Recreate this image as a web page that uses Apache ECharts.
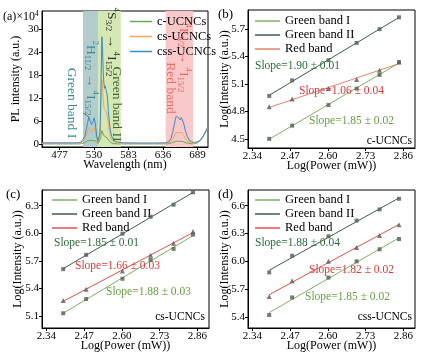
<!DOCTYPE html>
<html><head><meta charset="utf-8">
<script src="https://cdn.jsdelivr.net/npm/echarts@6/dist/echarts.min.js"></script>
<style>html,body{margin:0;padding:0;background:#fff}#c{width:424px;height:359px}</style>
</head><body><div id="c"></div>
<script>
// ---------- data: panel (a) spectra ----------
const wavelength = [450,470,490,505,510,513,516,518,520,522,524,526,528,530,532,534,536,538,539,540,541,542,543,544,545,546,547,548,549,550,551,552,553,555,557,560,565,575,600,620,640,645,648,651,654,656,658,660,662,664,666,668,670,673,676,680,685,690,694,698,702,705];
const cUCNCs = [0,0,0,0,0.05,0.15,0.35,0.6,0.85,1.0,0.9,0.8,0.9,1.0,0.8,0.3,0.1,0.2,0.5,1.4,2.6,3.5,3.2,2.6,2.2,2.0,2.05,1.9,1.75,1.6,1.3,1.0,0.7,0.4,0.2,0.1,0.05,0,0,0,0,0.1,0.2,0.4,0.6,0.7,0.75,0.7,0.65,0.7,0.65,0.5,0.35,0.2,0.1,0.05,0.05,0.4,1.0,2.0,3.3,4.4];
const csUCNCs = [0.1,0.1,0.1,0.1,0.2,0.6,1.3,2.4,3.5,4.3,3.7,3.1,3.5,4.1,3.2,1.2,0.4,0.8,1.8,5.5,11.5,16.8,15.0,11.5,9.8,9.0,9.3,8.8,8.3,7.8,6.5,5.0,3.8,2.0,1.0,0.5,0.2,0.1,0.1,0.1,0.1,0.3,0.6,1.3,2.4,3.0,3.2,2.9,2.7,3.0,2.8,2.2,1.5,0.8,0.4,0.2,0.2,0.5,1.1,2.1,3.4,4.5];
const cssUCNCs = [0.3,0.3,0.3,0.3,0.5,1.0,2.0,3.8,5.5,7.0,6.0,5.0,5.6,6.8,5.2,2.0,0.7,1.2,3.0,9.0,19,28,25,19,16,14.5,15.2,14.5,13.6,13.0,11.0,8.5,6.5,3.5,2.0,1.0,0.5,0.3,0.25,0.25,0.3,0.6,1.4,3.2,5.8,7.2,7.6,6.9,6.3,6.9,6.6,5.2,3.6,2.0,1.0,0.5,0.4,0.6,1.2,2.2,3.5,4.6];
const wlTicks = [477,530,583,636,689];
const plTicks = [0,6,12,18,24,30];
// bands [start, end] in nm
const bandGreenI = [513,536];
const bandGreenII = [536,571];
const bandRed = [640,682];

// ---------- data: panels (b)-(d) ----------
const logPower = [2.398,2.477,2.602,2.699,2.778,2.845];
const powerTicks = [2.34,2.47,2.60,2.73,2.86];
const bGreenI  = [4.50,4.645,4.87,5.05,5.20,5.34];
const bGreenII = [4.97,5.14,5.36,5.55,5.70,5.83];
const bRed     = [4.85,4.935,5.05,5.15,5.25,5.34];
const bTicks = [4.5,4.8,5.1,5.4,5.7];
const cGreenI  = [5.13,5.285,5.505,5.71,5.83,5.985];
const cGreenII = [5.61,5.765,5.995,6.18,6.31,6.445];
const cRed     = [5.27,5.39,5.59,5.76,5.89,6.02];
const cTicks = [5.1,5.4,5.7,6.0,6.3];
const dGreenI  = [5.42,5.61,5.825,6.0,6.13,6.24];
const dGreenII = [5.88,6.06,6.27,6.44,6.56,6.675];
const dRed     = [5.62,5.79,6.00,6.15,6.28,6.395];
const dTicks = [5.4,5.7,6.0,6.3,6.6];

const FONT = "'Liberation Serif','Times New Roman',serif";
const zip = (xs, ys) => xs.map((x, i) => [x, ys[i]]);
function fitLine(xs, ys) {
  const n = xs.length;
  const mx = xs.reduce((a, b) => a + b, 0) / n, my = ys.reduce((a, b) => a + b, 0) / n;
  let sxy = 0, sxx = 0;
  for (let i = 0; i < n; i++) { sxy += (xs[i] - mx) * (ys[i] - my); sxx += (xs[i] - mx) ** 2; }
  const k = sxy / sxx, b = my - k * mx;
  return [[xs[0], k * xs[0] + b], [xs[n - 1], k * xs[n - 1] + b]];
}

function xAx(gi, min, max, ticks, dec, name) {
  return {type:'value', gridIndex:gi, min, max, name, nameLocation:'middle', nameGap:12, nameMoveOverlap:false,
    nameTextStyle:{fontFamily:FONT, fontSize:12, color:'#000'},
    axisLine:{onZero:false, lineStyle:{color:'#000', width:1}},
    axisTick:{show:true, length:3, customValues:ticks, lineStyle:{color:'#000'}},
    axisLabel:{customValues:ticks, formatter:v => dec ? v.toFixed(dec) : String(v), fontFamily:FONT, fontSize:11, color:'#000', margin:3},
    splitLine:{show:false}};
}
function yAx(gi, min, max, ticks, dec, name, gap) {
  return {type:'value', gridIndex:gi, min, max, name, nameLocation:'middle', nameGap:gap, nameMoveOverlap:false,
    nameTextStyle:{fontFamily:FONT, fontSize:12, color:'#000'},
    axisLine:{onZero:false, lineStyle:{color:'#000', width:1}},
    axisTick:{show:true, length:3, customValues:ticks, lineStyle:{color:'#000'}},
    axisLabel:{customValues:ticks, formatter:v => dec ? v.toFixed(dec) : String(v), fontFamily:FONT, fontSize:11, color:'#000', margin:3},
    splitLine:{show:false}};
}

const specColors = {c:'#6aaa55', cs:'#f5a55a', css:'#3a8cc8'};
function specSeries(name, ys, color) {
  return {type:'line', name, xAxisIndex:0, yAxisIndex:0, data:zip(wavelength, ys), symbol:'none',
    color, lineStyle:{color, width:1}, itemStyle:{color}, z:3, animation:false};
}

const colGI = '#80b068', colGII = '#3e5e48';
function panelSeries(idx, tag, gI, gII, red, redColor) {
  const out = [];
  const defs = [['Green band I', gI, colGI, 'rect', 4], ['Green band II', gII, colGII, 'rect', 4], ['Red band', red, redColor, 'triangle', 5]];
  defs.forEach(([nm, ys, col, sym, sz]) => {
    out.push({type:'line', name:nm + '#' + tag, xAxisIndex:idx, yAxisIndex:idx, data:fitLine(logPower, ys),
      symbol:'none', color:col, lineStyle:{color:col, width:1}, itemStyle:{color:col}, z:2, animation:false});
    out.push({type:'scatter', name:'pts' + nm + tag, xAxisIndex:idx, yAxisIndex:idx, data:zip(logPower, ys),
      symbol:sym, symbolSize:sz, itemStyle:{color:'#4f5e52'}, z:4, animation:false});
  });
  return out;
}

function legendFor(names, left, top, w, lh) {
  return {data:names, orient:'vertical', left, top, icon:'rect', itemWidth:w, itemHeight:1.5, itemGap:0,
    formatter:n => n.split('#')[0], selectedMode:false,
    textStyle:{fontFamily:FONT, fontSize:12.5, color:'#000', lineHeight:lh, padding:[0,0,0,0]}};
}

const rich = {
  m:{fontFamily:FONT, fontSize:13.5, lineHeight:17, verticalAlign:'middle'},
  sup:{fontFamily:FONT, fontSize:9, lineHeight:17, verticalAlign:'top'},
  sub:{fontFamily:FONT, fontSize:9, lineHeight:17, verticalAlign:'bottom'}
};
function txt(x, y, text, color, opts = {}) {
  return {type:'text', x, y, rotation:opts.rot || 0, z:10,
    style:{text, fill:color, font:(opts.size || 11.5) + 'px ' + FONT, align:opts.align || 'left', verticalAlign:'middle'}};
}
const ROT = -Math.PI / 2;
function richColor(color, small) {
  const r = JSON.parse(JSON.stringify(rich));
  Object.values(r).forEach(s => { s.fill = color; });
  if (small) { r.m.fontSize = 12; r.sup.fontSize = 7.5; r.m.lineHeight = 14; r.sup.lineHeight = 14; }
  return r;
}
function rtxt(x, y, text, color) {
  return {type:'text', x, y, rotation:ROT, z:10,
    style:{text, fill:color, align:'center', verticalAlign:'middle', rich:richColor(color)}};
}

const option = {
  backgroundColor:'#fff',
  animation:false,
  grid:[
    {left:42, top:11, width:166, height:136, show:true, borderColor:'#000', borderWidth:1, backgroundColor:'transparent'},
    {left:248, top:10, width:167, height:138, show:true, borderColor:'#000', borderWidth:1, backgroundColor:'transparent'},
    {left:42, top:190, width:167, height:138, show:true, borderColor:'#000', borderWidth:1, backgroundColor:'transparent'},
    {left:248, top:190, width:167, height:138, show:true, borderColor:'#000', borderWidth:1, backgroundColor:'transparent'}
  ],
  xAxis:[
    xAx(0, 450, 705, wlTicks, 0, 'Wavelength (nm)'),
    xAx(1, 2.325, 2.90, powerTicks, 2, 'Log(Power (mW))'),
    xAx(2, 2.325, 2.90, powerTicks, 2, 'Log(Power (mW))'),
    xAx(3, 2.325, 2.90, powerTicks, 2, 'Log(Power (mW))')
  ],
  yAxis:[
    yAx(0, -0.8, 34.7, plTicks, 0, 'PL intensity (a.u.)', 20),
    yAx(1, 4.40, 5.91, bTicks, 1, 'Log(Intensity (a.u.))', 17),
    yAx(2, 4.97, 6.47, cTicks, 1, 'Log(Intensity (a.u.))', 18),
    yAx(3, 5.28, 6.77, dTicks, 1, 'Log(Intensity (a.u.))', 17)
  ],
  legend:[
    legendFor(['c-UCNCs','cs-UCNCs','css-UCNCs'], 125, 9, 22, 15),
    legendFor(['Green band I#b','Green band II#b','Red band#b'], 250, 9, 25, 14),
    legendFor(['Green band I#c','Green band II#c','Red band#c'], 47, 188, 25, 14),
    legendFor(['Green band I#d','Green band II#d','Red band#d'], 250, 188, 25, 14)
  ],
  series:[
    {type:'line', name:'bands', xAxisIndex:0, yAxisIndex:0, data:[], symbol:'none', z:1, silent:true,
      markArea:{silent:true, data:[
        [{xAxis:bandGreenI[0], itemStyle:{color:'#b3cdcc'}}, {xAxis:bandGreenI[1]}],
        [{xAxis:bandGreenII[0], itemStyle:{color:'#d5e7b3'}}, {xAxis:bandGreenII[1]}],
        [{xAxis:bandRed[0], itemStyle:{color:'#f9c8c8'}}, {xAxis:bandRed[1]}]
      ]}},
    specSeries('c-UCNCs', cUCNCs, specColors.c),
    specSeries('cs-UCNCs', csUCNCs, specColors.cs),
    specSeries('css-UCNCs', cssUCNCs, specColors.css),
    ...panelSeries(1, 'b', bGreenI, bGreenII, bRed, '#e3856a'),
    ...panelSeries(2, 'c', cGreenI, cGreenII, cRed, '#e05050'),
    ...panelSeries(3, 'd', dGreenI, dGreenII, dRed, '#e05050')
  ],
  graphic:[
    {type:'text', x:3, y:17, z:10, style:{text:'{m|(a)×10}{sup|4}', fill:'#000', verticalAlign:'middle', rich:richColor('#000', true)}},
    txt(218, 15, '(b)', '#000', {size:13}),
    txt(6, 195, '(c)', '#000', {size:13}),
    txt(218, 195, '(d)', '#000', {size:13}),
    rtxt(91, 78, '{sup|2}{m|H}{sub|11/2}{m| → }{sup|4}{m|I}{sub|15/2}', '#3f8a8f'),
    rtxt(72, 103, '{m|Green band I}', '#3f8a8f'),
    rtxt(112, 42, '{sup|4}{m|S}{sub|3/2}{m| → }{sup|4}{m|I}{sub|15/2}', '#333'),
    rtxt(117, 104, '{m|Green band II}', '#3e6a2e'),
    rtxt(184, 58, '{sup|4}{m|F}{sub|9/2}{m| → }{sup|4}{m|I}{sub|15/2}', '#f06a6a'),
    rtxt(171, 88, '{m|Red band}', '#f06a6a'),
    {type:'line', z:10, shape:{x1:83, y1:113, x2:89, y2:117}, style:{stroke:'#3f6a6f', lineWidth:0.8}},
    txt(255, 66, 'Slope=1.90 ± 0.01', '#2e6b3a'),
    txt(299, 91, 'Slope=1.06 ± 0.04', '#d83a3a'),
    txt(309, 121, 'Slope=1.85 ± 0.02', '#6a9e45'),
    txt(412, 141, 'c-UCNCs', '#000', {align:'right'}),
    txt(54, 243, 'Slope=1.85 ± 0.01', '#2e6b3a'),
    txt(75, 266, 'Slope=1.66 ± 0.03', '#d83a3a'),
    txt(106, 292, 'Slope=1.88 ± 0.03', '#6a9e45'),
    txt(205, 317, 'cs-UCNCs', '#000', {align:'right'}),
    txt(255, 243, 'Slope=1.88 ± 0.04', '#2e6b3a'),
    txt(309, 270, 'Slope=1.82 ± 0.02', '#d83a3a'),
    txt(305, 297, 'Slope=1.85 ± 0.02', '#6a9e45'),
    txt(412, 317, 'css-UCNCs', '#000', {align:'right'})
  ]
};
const chart = echarts.init(document.getElementById('c'), null, {renderer:'canvas'});
chart.setOption(option);
</script></body></html>
